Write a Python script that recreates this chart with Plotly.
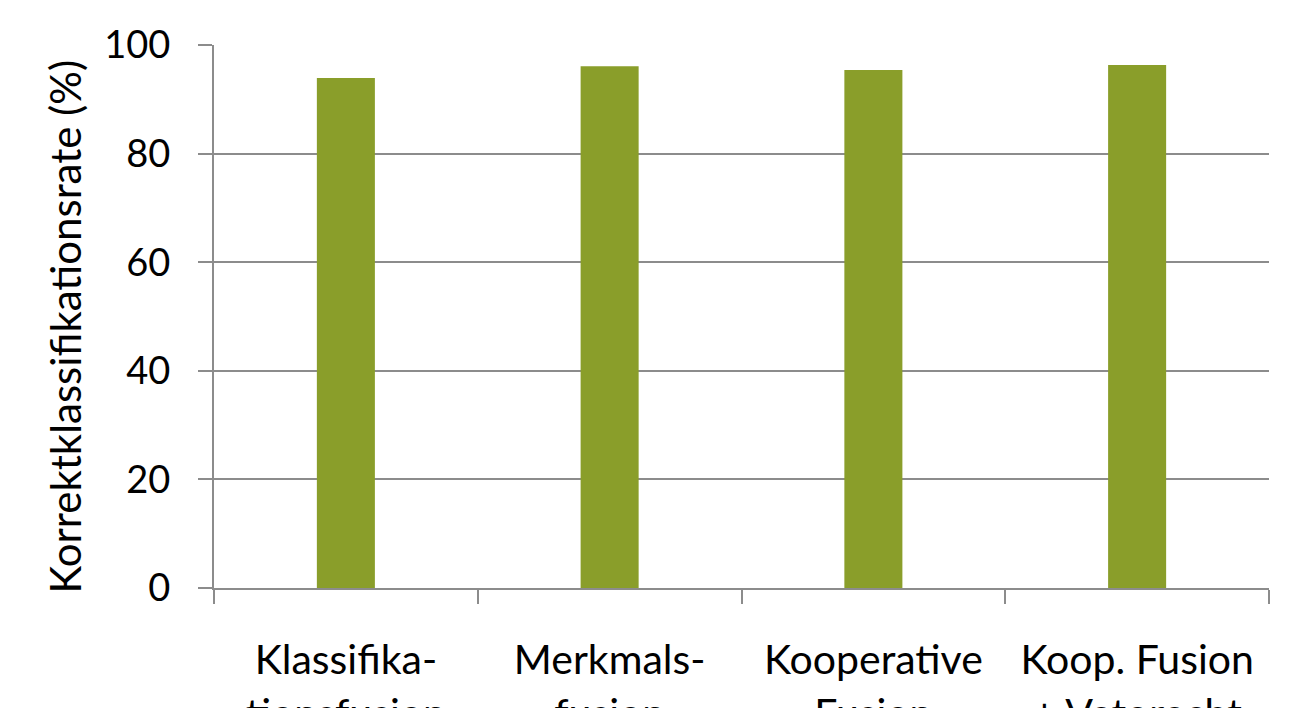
import plotly.graph_objects as go

# Fusion strategies and their correct classification rates
categories = [
    "Klassifika-<br>tionsfusion",
    "Merkmals-<br>fusion",
    "Kooperative<br>Fusion",
    "Koop. Fusion<br>+ Vetorecht",
]
rates = [93.9, 96.1, 95.4, 96.3]
y_ticks = [0, 20, 40, 60, 80, 100]
y_title = "Korrektklassifikationsrate (%)"

bar_color = "#8A9E2A"
axis_gray = "#8C8C8C"
font_family = "Lato, 'Open Sans', sans-serif"

fig = go.Figure(
    go.Bar(
        x=categories,
        y=rates,
        marker=dict(color=bar_color, line=dict(width=0)),
        hoverinfo="x+y",
    )
)

fig.update_layout(
    width=1308,
    height=708,
    margin=dict(l=214, r=39, t=45, b=120),
    paper_bgcolor="white",
    plot_bgcolor="white",
    bargap=0.78,
    showlegend=False,
    font=dict(family=font_family, size=38, color="black"),
)

fig.update_xaxes(
    type="category",
    tickson="boundaries",
    ticks="outside",
    ticklen=14,
    tickwidth=2,
    tickcolor=axis_gray,
    showline=True,
    linecolor=axis_gray,
    linewidth=2,
    showgrid=False,
    tickfont=dict(size=41),
    ticklabelstandoff=35,
    automargin=False,
)

fig.update_yaxes(
    range=[0, 100],
    tickvals=y_ticks,
    ticktext=[str(v) for v in y_ticks],
    ticks="outside",
    ticklen=14,
    tickwidth=2,
    tickcolor=axis_gray,
    showline=True,
    linecolor=axis_gray,
    linewidth=2,
    showgrid=True,
    gridcolor=axis_gray,
    gridwidth=2,
    zeroline=False,
    tickfont=dict(size=38),
    ticklabelstandoff=20,
    automargin=False,
)

# Vertical axis title, placed beside the tick labels
fig.add_annotation(
    text=y_title,
    textangle=-90,
    xref="paper",
    yref="paper",
    x=-0.141,
    y=0.482,
    xanchor="center",
    yanchor="middle",
    showarrow=False,
    font=dict(size=42, family=font_family, color="black"),
)

fig.write_html("out.html")
